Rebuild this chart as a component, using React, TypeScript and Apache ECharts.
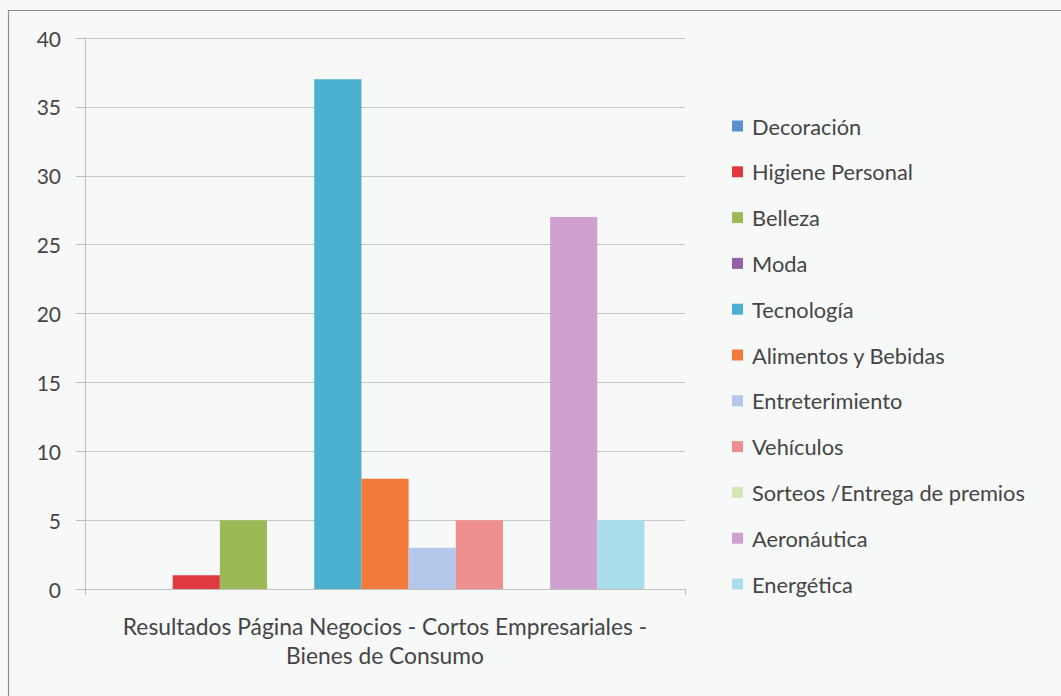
import React, { useEffect, useRef } from "react";
import * as echarts from "echarts";

const categories = ["Resultados Página Negocios - Cortos Empresariales -\nBienes de Consumo"];
const seriesNames = [
  "Decoración",
  "Higiene Personal",
  "Belleza",
  "Moda",
  "Tecnología",
  "Alimentos y Bebidas",
  "Entreterimiento",
  "Vehículos",
  "Sorteos /Entrega de premios",
  "Aeronáutica",
  "Energética",
];
const seriesValues = [0, 1, 5, 0, 37, 8, 3, 5, 0, 27, 5];
const seriesColors = [
  "#5B8FD0",
  "#E0393F",
  "#9CB955",
  "#9460A8",
  "#4BAFCF",
  "#F47A3C",
  "#B3C8EA",
  "#EE8E8E",
  "#D4E6B5",
  "#CFA0D0",
  "#A9DDEB",
];
const yMin = 0;
const yMax = 40;
const yInterval = 5;

export default function App() {
  const ref = useRef<HTMLDivElement>(null);
  useEffect(() => {
    if (!ref.current) return;
    const chart = echarts.init(ref.current, undefined, { renderer: "svg" });
    const font = "Lato, 'Open Sans', sans-serif";
    chart.setOption({
      animation: false,
      backgroundColor: "#F7F8F8",
      textStyle: { fontFamily: font },
      graphic: [
        {
          type: "rect",
          shape: { x: 8.5, y: 10.5, width: 1100, height: 800 },
          style: { fill: "none", stroke: "#8C8C8C", lineWidth: 1.2 },
          silent: true,
        },
      ],
      grid: { left: 85, right: 376, top: 38, bottom: 107, containLabel: false },
      legend: {
        orient: "vertical",
        left: 732,
        top: 114,
        padding: 0,
        icon: "rect",
        itemWidth: 11,
        itemHeight: 11,
        itemGap: 21.8,
        selectedMode: false,
        textStyle: {
          fontFamily: font,
          fontSize: 21.8,
          color: "#454545",
          lineHeight: 24,
          padding: [0, 0, 0, 4],
        },
        data: seriesNames,
      },
      xAxis: {
        type: "category",
        data: categories,
        axisLine: { show: true, lineStyle: { color: "#BFBFBF" } },
        axisTick: { show: true, length: 6, lineStyle: { color: "#BFBFBF" } },
        axisLabel: {
          fontFamily: font,
          fontSize: 22.8,
          color: "#454545",
          lineHeight: 28.5,
          margin: 23,
        },
      },
      yAxis: {
        type: "value",
        min: yMin,
        max: yMax,
        interval: yInterval,
        axisLine: { show: true, lineStyle: { color: "#BFBFBF" } },
        axisTick: { show: true, length: 9, lineStyle: { color: "#BFBFBF" } },
        splitLine: { show: true, lineStyle: { color: "#C8C8C8" } },
        axisLabel: {
          fontFamily: font,
          fontSize: 21,
          color: "#454545",
          margin: 24,
        },
      },
      series: seriesNames.map((name, i) => ({
        name,
        type: "bar",
        data: [seriesValues[i]],
        itemStyle: { color: seriesColors[i] },
        barGap: "0%",
        barCategoryGap: "13.5%",
      })),
    });
    return () => chart.dispose();
  }, []);
  return (
    <div
      ref={ref}
      style={{ position: "fixed", left: 0, top: 0, width: 1061, height: 696 }}
    />
  );
}
